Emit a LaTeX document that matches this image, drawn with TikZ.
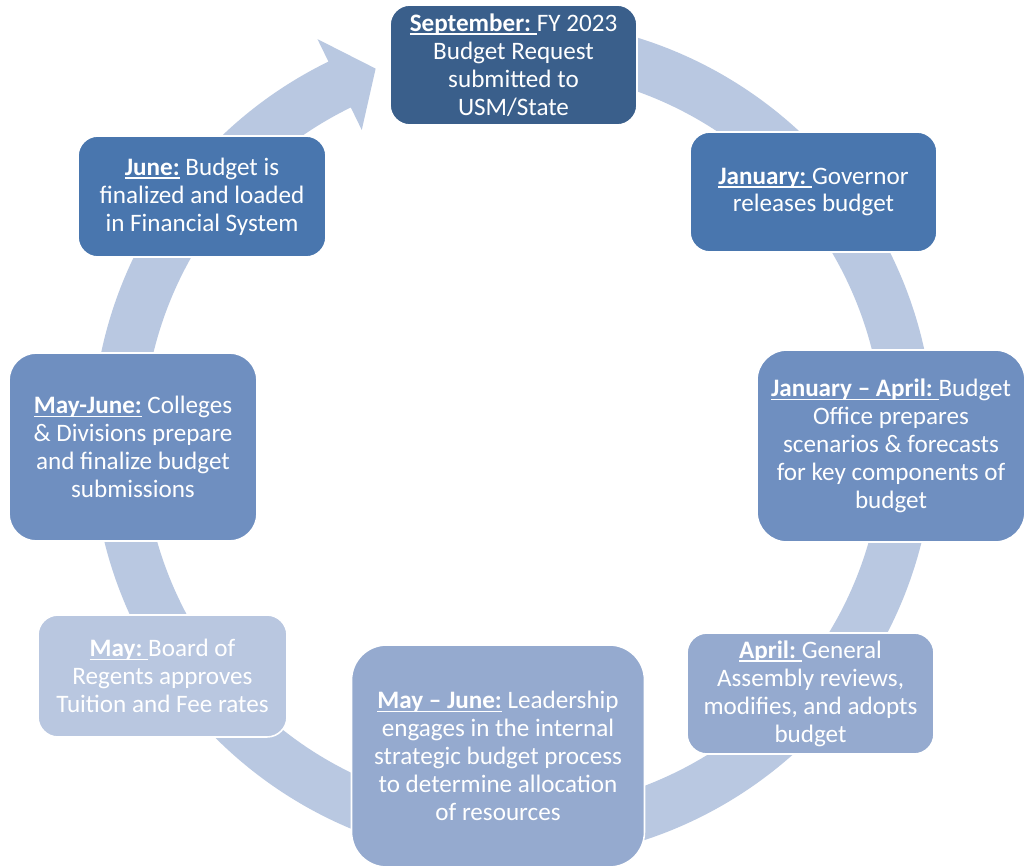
\documentclass[tikz,border=0pt]{standalone}
\usepackage{fontspec}
\setmainfont{Carlito}
\definecolor{stageDark}{RGB}{58,95,139}
\definecolor{stageMid}{RGB}{73,118,174}
\definecolor{stageSoft}{RGB}{111,143,192}
\definecolor{stagePale}{RGB}{149,170,207}
\definecolor{stageLight}{RGB}{185,199,224}
\definecolor{ringBlue}{RGB}{185,200,225}
\newsavebox{\headbox}
\newcommand{\stagehead}[1]{\sbox{\headbox}{\textbf{#1}}\rlap{\rule[-2pt]{\wd\headbox}{0.8pt}}\usebox{\headbox}}

\begin{document}
\begin{tikzpicture}[x=0.02cm, y=0.02cm, font=\fontsize{14.3}{15.9}\selectfont]
%% coordinates are in pixels of the original drawing, y measured upwards
\tikzstyle{stage}=[draw=white, line width=0.9pt, rounded corners=0.4cm, text=white, align=center, inner sep=0pt]
\tikzstyle{ring}=[fill=ringBlue]
\useasboundingbox (0,0) rectangle (1026,867);
\fill[white] (0,0) rectangle (1026,867);
%% circular arrow running behind the stages
\begin{scope}[shift={(513,427)}]
\fill[ring] (90:370) -- (90:421) arc[start angle=90, end angle=-244, radius=421]
  -- (-244:446) -- (-249.7:396) -- (-244:345) -- (-244:370)
  arc[start angle=-244, end angle=90, radius=370] -- cycle;
\end{scope}
%% stages of the budget cycle
\node[stage, fill=stageDark, minimum width=4.94cm, minimum height=2.4cm] at (513.5,802) (September) {\stagehead{September:\ }FY 2023\\Budget Request\\submitted to\\USM/State};
\node[stage, fill=stageMid, minimum width=4.94cm, minimum height=2.4cm] at (813.5,675) (January) {\stagehead{January:\ }Governor\\releases budget};
\node[stage, fill=stageSoft, minimum width=5.36cm, minimum height=3.84cm, rounded corners=0.6cm] at (891,421) (JanApril) {\stagehead{January -- April:\ }Budget\\Office prepares\\scenarios \& forecasts\\for key components of\\budget};
\node[stage, fill=stagePale, minimum width=4.94cm, minimum height=2.42cm] at (810.5,173.5) (April) {\stagehead{April:\ }General\\Assembly reviews,\\modifies, and adopts\\budget};
\node[stage, fill=stagePale, minimum width=5.86cm, minimum height=4.44cm, rounded corners=0.7cm] at (498,111) (Leadership) {\stagehead{May -- June:} Leadership\\engages in the internal\\strategic budget process\\to determine allocation\\of resources};
\node[stage, fill=stageLight, minimum width=4.98cm, minimum height=2.44cm] at (162.5,191) (May) {\stagehead{May:\ }Board of\\Regents approves\\Tuition and Fee rates};
\node[stage, fill=stageSoft, minimum width=4.96cm, minimum height=3.76cm, rounded corners=0.55cm] at (133,420) (MayJune) {\stagehead{May-June:} Colleges\\\& Divisions prepare\\and finalize budget\\submissions};
\node[stage, fill=stageMid, minimum width=4.96cm, minimum height=2.42cm] at (202,670.5) (June) {\stagehead{June:} Budget is\\finalized and loaded\\in Financial System};
\end{tikzpicture}
\end{document}
